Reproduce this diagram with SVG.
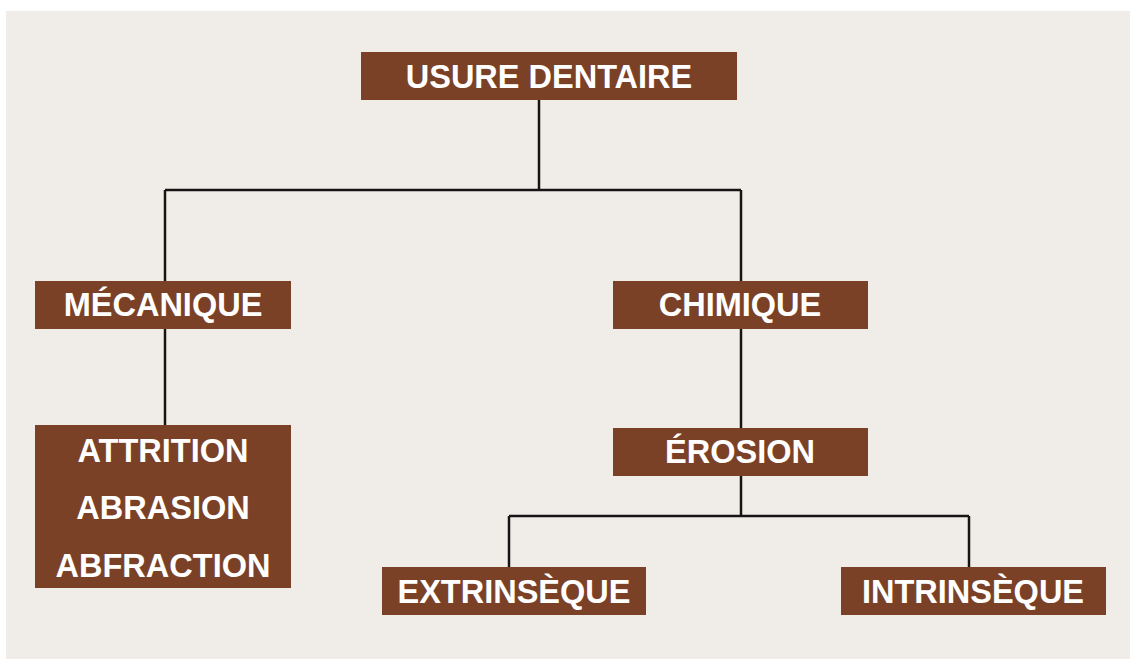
<svg xmlns="http://www.w3.org/2000/svg" width="1130" height="659" viewBox="0 0 1130 659">
<style>
.box{fill:#7b4127;}
.lbl{fill:#ffffff;font-family:"Liberation Sans",Arial,sans-serif;font-weight:bold;font-size:32.5px;text-anchor:middle;}
.conn{stroke:#151515;stroke-width:2.5;fill:none;}
</style>
<rect x="0" y="0" width="1130" height="659" fill="#ffffff"/>
<rect x="6" y="11" width="1124" height="648" fill="#f0ede8"/>
<g id="connectors">
<path class="conn" d="M539 100 V190 M165 190 H741 M165 190 V281 M741 190 V281 M165 329 V425 M741 329 V428 M741 476 V516 M509 516 H969 M509 516 V567 M969 516 V567"/>
</g>
<g id="usure">
<rect class="box" x="361" y="52" width="376" height="48"/>
<text class="lbl" x="549" y="88">USURE DENTAIRE</text>
</g>
<g id="mecanique">
<rect class="box" x="35" y="281" width="256" height="48"/>
<text class="lbl" x="163" y="316">MÉCANIQUE</text>
</g>
<g id="chimique">
<rect class="box" x="613" y="281" width="255" height="48"/>
<text class="lbl" x="740" y="316">CHIMIQUE</text>
</g>
<g id="types-mecaniques">
<rect class="box" x="35" y="425" width="256" height="163"/>
<text class="lbl" x="163" y="462">ATTRITION</text>
<text class="lbl" x="163" y="519">ABRASION</text>
<text class="lbl" x="163" y="577">ABFRACTION</text>
</g>
<g id="erosion">
<rect class="box" x="613" y="428" width="255" height="48"/>
<text class="lbl" x="740" y="463">ÉROSION</text>
</g>
<g id="extrinseque">
<rect class="box" x="382" y="567" width="264" height="48"/>
<text class="lbl" x="514" y="603">EXTRINSÈQUE</text>
</g>
<g id="intrinseque">
<rect class="box" x="841" y="567" width="265" height="48"/>
<text class="lbl" x="973" y="603">INTRINSÈQUE</text>
</g>
</svg>
